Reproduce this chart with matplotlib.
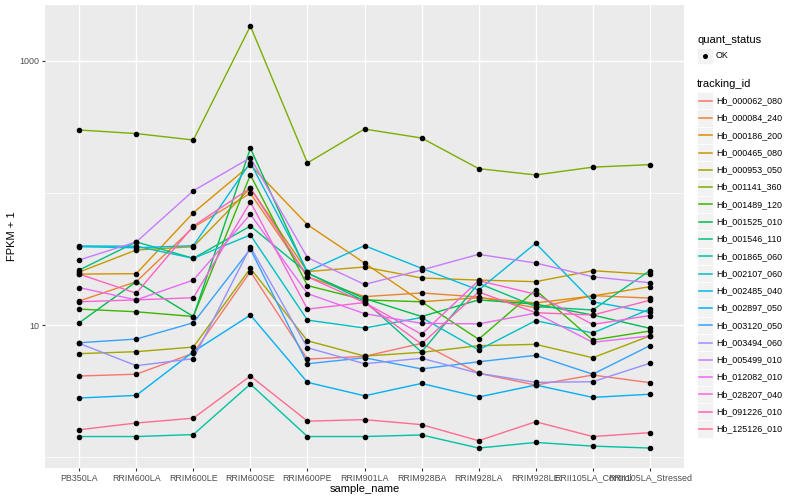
import matplotlib.pyplot as plt
from matplotlib.lines import Line2D
from matplotlib.patches import Rectangle
from matplotlib.ticker import FixedLocator, NullFormatter

plt.rcParams['font.family'] = ['Liberation Sans', 'DejaVu Sans']

# Образцы по оси x
samples = ['PB350LA', 'RRIM600LA', 'RRIM600LE', 'RRIM600SE', 'RRIM600PE',
           'RRIM901LA', 'RRIM928BA', 'RRIM928LA', 'RRIM928LE',
           'RRII105LA_Control', 'RRII105LA_Stressed']

# FPKM + 1 для каждого гена (в порядке образцов)
hb_000062_080 = [4.11, 4.24, 6.11, 25.4, 5.52, 5.79, 7.26, 4.31, 3.51, 4.18, 3.66]
hb_000084_240 = [15.2, 21.3, 55.0, 99.5, 23.2, 16.4, 17.5, 16.3, 13.5, 16.7, 16.0]
hb_000186_200 = [24.3, 24.5, 70.9, 163, 57.5, 29.5, 15.0, 16.1, 14.7, 16.6, 19.5]
hb_000465_080 = [25.2, 37.0, 39.2, 109, 25.4, 27.5, 22.7, 21.9, 21.3, 25.8, 24.2]
hb_000953_050 = [6.07, 6.28, 6.81, 26.9, 7.60, 5.82, 6.21, 6.97, 7.14, 5.65, 8.26]
hb_001141_360 = [300, 282, 252, 1841, 169, 305, 261, 153, 137, 157, 164]
hb_001489_120 = [13.2, 12.6, 11.6, 137, 19.9, 15.5, 15.0, 7.80, 18.4, 7.69, 9.01]
hb_001525_010 = [10.4, 21.3, 11.6, 218, 24.7, 15.9, 11.6, 15.5, 14.4, 11.9, 9.44]
hb_001546_110 = [26.1, 42.6, 32.0, 56.2, 24.8, 15.2, 6.24, 20.7, 13.8, 13.0, 25.8]
hb_001865_060 = [1.43, 1.43, 1.48, 3.57, 1.43, 1.43, 1.47, 1.17, 1.29, 1.21, 1.17]
hb_002107_060 = [39.7, 39.5, 32.0, 48.1, 10.9, 9.49, 11.4, 6.47, 10.8, 8.70, 13.2]
hb_002485_040 = [39.2, 38.5, 39.9, 170, 25.4, 39.9, 26.9, 18.4, 41.6, 15.0, 12.5]
hb_002897_050 = [2.80, 2.93, 6.28, 11.9, 3.68, 2.91, 3.61, 2.85, 3.51, 2.83, 2.99]
hb_003120_050 = [7.34, 7.83, 10.4, 37.6, 5.09, 5.65, 4.65, 5.27, 5.89, 4.24, 6.97]
hb_003494_060 = [7.26, 4.92, 5.56, 39.0, 6.73, 5.09, 5.60, 4.31, 3.68, 3.72, 5.13]
hb_005499_010 = [31.1, 42.6, 104, 185, 32.4, 20.3, 26.1, 34.3, 29.5, 23.2, 20.9]
hb_012082_010 = [19.2, 15.5, 21.9, 69.0, 17.3, 12.2, 10.3, 10.2, 12.3, 7.40, 8.26]
hb_028207_040 = [15.0, 15.5, 16.1, 85.5, 13.2, 14.8, 8.51, 21.7, 17.1, 10.1, 11.8]
hb_091226_010 = [24.3, 17.4, 56.2, 109, 23.2, 14.8, 7.18, 17.8, 12.4, 11.9, 15.4]
hb_125126_010 = [1.61, 1.81, 1.97, 4.11, 1.87, 1.92, 1.76, 1.33, 1.85, 1.43, 1.53]

tracking_ids = ['Hb_000062_080', 'Hb_000084_240', 'Hb_000186_200', 'Hb_000465_080',
                'Hb_000953_050', 'Hb_001141_360', 'Hb_001489_120', 'Hb_001525_010',
                'Hb_001546_110', 'Hb_001865_060', 'Hb_002107_060', 'Hb_002485_040',
                'Hb_002897_050', 'Hb_003120_050', 'Hb_003494_060', 'Hb_005499_010',
                'Hb_012082_010', 'Hb_028207_040', 'Hb_091226_010', 'Hb_125126_010']

series = [hb_000062_080, hb_000084_240, hb_000186_200, hb_000465_080,
          hb_000953_050, hb_001141_360, hb_001489_120, hb_001525_010,
          hb_001546_110, hb_001865_060, hb_002107_060, hb_002485_040,
          hb_002897_050, hb_003120_050, hb_003494_060, hb_005499_010,
          hb_012082_010, hb_028207_040, hb_091226_010, hb_125126_010]

# палитра ggplot (hue_pal, 20 уровней)
colors = ['#F8766D', '#EA8331', '#D89000', '#C09B00', '#A3A500', '#7CAE00',
          '#39B600', '#00BB4E', '#00BF7D', '#00C1A3', '#00BFC4', '#00BAE0',
          '#00B0F6', '#35A2FF', '#9590FF', '#C77CFF', '#E76BF3', '#FA62DB',
          '#FF62BC', '#FF6C91']

W, H = 800, 500
fig = plt.figure(figsize=(8, 5), dpi=100)
ax = fig.add_axes([45 / W, 32 / H, 639 / W, 463 / H])
ax.set_facecolor('#EBEBEB')
for s in ax.spines.values():
    s.set_visible(False)

x = list(range(len(samples)))
for i, (vals, c) in enumerate(zip(series, colors)):
    ax.plot(x, vals, color=c, lw=1.0, zorder=2 + i * 0.01)
for vals in series:
    ax.plot(x, vals, 'o', color='black', ms=3.0, zorder=5)

ax.set_yscale('log')
ax.set_ylim(0.826, 2655)
ax.set_xlim(-0.6, len(samples) - 0.4)

ax.yaxis.set_major_locator(FixedLocator([10, 1000]))
ax.yaxis.set_minor_locator(FixedLocator([1, 100]))
ax.yaxis.set_minor_formatter(NullFormatter())
ax.set_yticklabels(['10', '1000'])
ax.set_xticks(x)
ax.set_xticklabels(samples)

ax.tick_params(axis='both', which='major', length=2.5, width=0.8, color='#333333',
               labelsize=6.4, labelcolor='#4D4D4D', pad=1.5)
ax.tick_params(axis='y', which='minor', length=0)

ax.grid(which='major', color='white', lw=1.0)
ax.grid(which='minor', axis='y', color='white', lw=0.5)
ax.set_axisbelow(True)

# подписи осей как в ggplot
ax.set_xlabel('sample_name', fontsize=8, labelpad=1)
ax.set_ylabel('FPKM + 1', fontsize=8, labelpad=2)


# Легенда рисуется вручную в пикселях фигуры
def fx(px):
    return px / W


def fy(py):
    return 1 - py / H


fig.text(fx(697), fy(40), 'quant_status', fontsize=8, va='center')
fig.add_artist(Rectangle((fx(697), fy(64)), 16 / W, 16 / H, facecolor='#F2F2F2',
                         edgecolor='white', lw=0.5, transform=fig.transFigure))
fig.add_artist(Line2D([fx(705)], [fy(56)], marker='o', color='black', ms=2.6,
                      transform=fig.transFigure))
fig.text(fx(716), fy(56), 'OK', fontsize=6.4, va='center')

fig.text(fx(697), fy(84), 'tracking_id', fontsize=8, va='center')
for i, (name, c) in enumerate(zip(tracking_ids, colors)):
    cy = 100.7 + 17.28 * i
    fig.add_artist(Rectangle((fx(697), fy(cy + 8.6)), 16 / W, 17.2 / H,
                             facecolor='#F2F2F2', edgecolor='white', lw=0.5,
                             transform=fig.transFigure))
    fig.add_artist(Line2D([fx(698.5), fx(711.5)], [fy(cy), fy(cy)], color=c, lw=1.1,
                          transform=fig.transFigure))
    fig.text(fx(716), fy(cy), name, fontsize=6.4, va='center')

fig.savefig('out.png', dpi=100)
